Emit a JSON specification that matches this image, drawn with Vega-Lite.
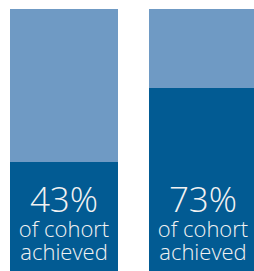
{
  "$schema": "https://vega.github.io/schema/vega-lite/v6.json",
  "width": 267,
  "height": 262,
  "padding": {"top": 9, "left": 0, "right": 0, "bottom": 0},
  "autosize": "none",
  "background": "white",
  "config": {"view": {"stroke": null}},
  "data": {"values": [
    {"group": "A", "total": 100, "achieved": 41.6, "pct": "43%", "line1": "of cohort", "line2": "achieved"},
    {"group": "B", "total": 100, "achieved": 69.8, "pct": "73%", "line1": "of cohort", "line2": "achieved"}
  ]},
  "encoding": {
    "x": {"field": "group", "type": "nominal", "axis": null,
          "scale": {"paddingInner": 0.223, "paddingOuter": 0.072}}
  },
  "layer": [
    {"mark": {"type": "bar", "color": "#6f9ac4"},
     "encoding": {"y": {"field": "total", "type": "quantitative", "axis": null, "scale": {"domain": [0, 100], "nice": false}}}},
    {"mark": {"type": "bar", "color": "#025b93"},
     "encoding": {"y": {"field": "achieved", "type": "quantitative"}}},
    {"mark": {"type": "text", "color": "#f2f2f2", "fontSize": 35, "font": "Open Sans", "fontWeight": 300, "baseline": "alphabetic", "align": "center"},
     "encoding": {"y": {"datum": 22.5}, "text": {"field": "pct"}}},
    {"mark": {"type": "text", "color": "#f2f2f2", "fontSize": 22, "font": "Open Sans", "fontWeight": 300, "baseline": "alphabetic", "align": "center"},
     "encoding": {"y": {"datum": 13.0}, "text": {"field": "line1"}}},
    {"mark": {"type": "text", "color": "#f2f2f2", "fontSize": 22, "font": "Open Sans", "fontWeight": 300, "baseline": "alphabetic", "align": "center"},
     "encoding": {"y": {"datum": 4.2}, "text": {"field": "line2"}}}
  ]
}
